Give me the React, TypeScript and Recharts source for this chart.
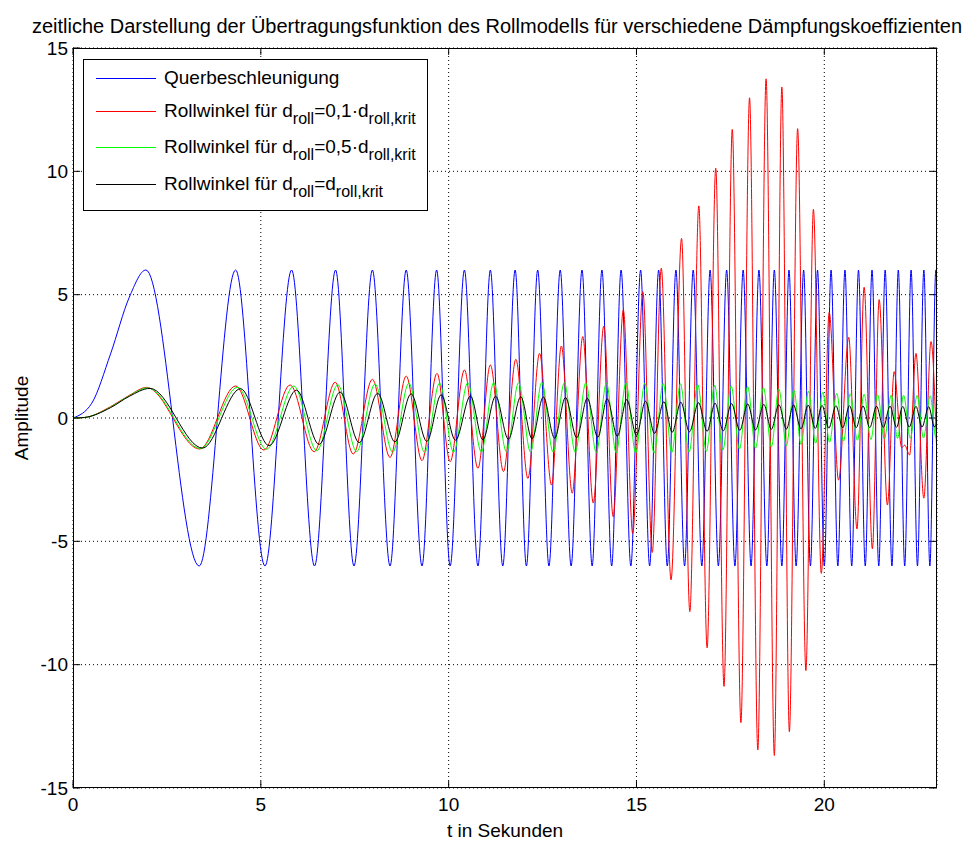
import React from "react"
import { LineChart, Line, XAxis, YAxis, CartesianGrid, ReferenceLine } from "recharts"

// extrema (t in s, amplitude)
const quer: number[][] = [
  [0, 0], [0.5, 0.6], [1.0, 2.6], [1.5, 4.9], [1.94, 6], [3.36, -6], [4.33, 6], [5.11, -6], [5.82, 6], [6.43, -6],
  [6.99, 6], [7.48, -6], [7.97, 6], [8.44, -6], [8.87, 6], [9.29, -6], [9.68, 6], [10.04, -6], [10.42, 6],
  [10.78, -6], [11.11, 6], [11.44, -6], [11.77, 6], [12.07, -6], [12.37, 6], [12.67, -6], [12.97, 6],
  [13.26, -6], [13.55, 6], [13.82, -6], [14.08, 6], [14.34, -6], [14.59, 6], [14.85, -6], [15.11, 6],
  [15.35, -6], [15.59, 6], [15.82, -6], [16.05, 6], [16.28, -6], [16.51, 6], [16.74, -6], [16.96, 6],
  [17.18, -6], [17.4, 6], [17.62, -6], [17.84, 6], [18.05, -6], [18.26, 6], [18.47, -6], [18.67, 6],
  [18.87, -6], [19.06, 6], [19.25, -6], [19.45, 6], [19.63, -6], [19.82, 6], [20.0, -6], [20.18, 6],
  [20.36, -6], [20.55, 6], [20.73, -6], [20.91, 6], [21.09, -6], [21.27, 6], [21.45, -6], [21.62, 6],
  [21.8, -6], [21.97, 6], [22.14, -6], [22.31, 6], [22.48, -6], [22.65, 6], [22.81, -6], [22.97, 6], [23, 5.9],
]

const roll01: number[][] = [
  [0, 0], [0.3, 0.02], [1.0, 0.46], [1.5, 0.92], [1.96, 1.24], [3.37, -1.26], [4.33, 1.3], [5.08, -1.3],
  [5.78, 1.34], [6.42, -1.37], [6.98, 1.45], [7.46, -1.46], [7.97, 1.57], [8.44, -1.6], [8.87, 1.7],
  [9.29, -1.73], [9.69, 1.81], [10.04, -1.77], [10.42, 1.95], [10.78, -2.04], [11.11, 2.15], [11.46, -2.17],
  [11.79, 2.38], [12.11, -2.45], [12.42, 2.62], [12.74, -2.72], [13.0, 2.92], [13.29, -3.05], [13.57, 3.3],
  [13.85, -3.45], [14.13, 3.73], [14.38, -4.0], [14.65, 4.38], [14.9, -4.68], [15.17, 5.12], [15.42, -5.45],
  [15.66, 6.07], [15.92, -6.56], [16.2, 7.28], [16.42, -7.85], [16.66, 8.6], [16.88, -9.32], [17.11, 10.13],
  [17.33, -10.88], [17.55, 11.7], [17.78, -12.35], [18.01, 12.98], [18.23, -13.46], [18.45, 13.75],
  [18.67, -13.68], [18.87, 13.42], [19.07, -12.72], [19.29, 11.73], [19.51, -10.24], [19.71, 8.46],
  [19.92, -6.3], [20.13, 4.28], [20.38, -2.52], [20.65, 3.27], [20.87, -4.5], [21.06, 5.3], [21.28, -5.3],
  [21.46, 4.8], [21.68, -3.53], [21.86, 1.88], [22.06, -1.2], [22.14, -1.1], [22.27, -1.5], [22.44, 2.62],
  [22.65, -3.25], [22.84, 3.1], [23, -1.7],
]

const roll05: number[][] = [
  [0, 0], [0.3, 0.02], [1.0, 0.44], [1.5, 0.9], [1.99, 1.22], [3.39, -1.24], [4.38, 1.25], [5.15, -1.27],
  [5.88, 1.3], [6.49, -1.33], [7.05, 1.35], [7.55, -1.36], [8.04, 1.38], [8.51, -1.39], [8.94, 1.41],
  [9.36, -1.4], [9.76, 1.42], [10.13, -1.39], [10.51, 1.43], [10.87, -1.38], [11.2, 1.43], [11.54, -1.38],
  [11.86, 1.43], [12.18, -1.38], [12.48, 1.44], [12.78, -1.38], [13.08, 1.43], [13.37, -1.39], [13.65, 1.42],
  [13.93, -1.4], [14.2, 1.42], [14.46, -1.41], [14.72, 1.42], [14.98, -1.42], [15.22, 1.41], [15.47, -1.42],
  [15.71, 1.4], [15.94, -1.4], [16.17, 1.39], [16.4, -1.38], [16.63, 1.36], [16.86, -1.35], [17.08, 1.33],
  [17.3, -1.3], [17.52, 1.3], [17.74, -1.26], [17.96, 1.27], [18.17, -1.22], [18.38, 1.23], [18.59, -1.17],
  [18.79, 1.18], [18.99, -1.12], [19.19, 1.13], [19.38, -1.07], [19.58, 1.08], [19.77, -1.02], [19.96, 1.04],
  [20.14, -0.98], [20.33, 1.0], [20.51, -0.94], [20.69, 0.98], [20.88, -0.9], [21.06, 0.96], [21.24, -0.87],
  [21.42, 0.94], [21.6, -0.85], [21.78, 0.93], [21.95, -0.83], [22.11, 0.92], [22.29, -0.82], [22.47, 0.91],
  [22.64, -0.81], [22.82, 0.9], [22.97, -0.8], [23, -0.75],
]

const rollKrit: number[][] = [
  [0, 0], [0.3, 0.02], [1.0, 0.42], [1.5, 0.88], [2.05, 1.2], [3.45, -1.22], [4.46, 1.19], [5.22, -1.12],
  [5.95, 1.13], [6.55, -1.07], [7.11, 1.05], [7.62, -1.0], [8.11, 1.0], [8.57, -0.97], [9.0, 0.98],
  [9.42, -0.95], [9.8, 0.94], [10.18, -0.9], [10.58, 0.89], [10.91, -0.88], [11.25, 0.88], [11.59, -0.86],
  [11.92, 0.86], [12.22, -0.84], [12.52, 0.85], [12.82, -0.82], [13.11, 0.83], [13.41, -0.8], [13.69, 0.8],
  [13.97, -0.78], [14.22, 0.78], [14.49, -0.74], [14.74, 0.75], [15.0, -0.7], [15.24, 0.68], [15.48, -0.62],
  [15.73, 0.66], [15.95, -0.58], [16.18, 0.64], [16.41, -0.56], [16.65, 0.62], [16.88, -0.54], [17.09, 0.6],
  [17.31, -0.52], [17.53, 0.58], [17.75, -0.5], [17.96, 0.57], [18.17, -0.48], [18.39, 0.55], [18.59, -0.46],
  [18.79, 0.54], [18.99, -0.45], [19.18, 0.53], [19.38, -0.44], [19.57, 0.52], [19.76, -0.42], [19.94, 0.51],
  [20.12, -0.41], [20.31, 0.5], [20.49, -0.4], [20.67, 0.5], [20.85, -0.39], [21.03, 0.49], [21.21, -0.39],
  [21.39, 0.48], [21.57, -0.38], [21.75, 0.48], [21.92, -0.38], [22.09, 0.47], [22.26, -0.37], [22.44, 0.47],
  [22.6, -0.37], [22.78, 0.46], [22.93, -0.36], [23, -0.2],
]

const xTicks = [0, 5, 10, 15, 20]
const yTicks = [-15, -10, -5, 0, 5, 10, 15]

const FONT = "'Liberation Sans', Arial, Helvetica, sans-serif"

const toPts = (arr: number[][]) => arr.map(([t, v]) => ({ t, v }))

function Sub({ children }: { children: React.ReactNode }) {
  return <span style={{ fontSize: 16, position: "relative", top: 7 }}>{children}</span>
}

const legendRows = [
  { color: "#0000ff", label: <>Querbeschleunigung</> },
  { color: "#ff0000", label: <>Rollwinkel für d<Sub>roll</Sub>=0,1·d<Sub>roll,krit</Sub></> },
  { color: "#00ff00", label: <>Rollwinkel für d<Sub>roll</Sub>=0,5·d<Sub>roll,krit</Sub></> },
  { color: "#000000", label: <>Rollwinkel für d<Sub>roll</Sub>=d<Sub>roll,krit</Sub></> },
]
const legendTops = [6, 39, 75, 112]

export default function App() {
  const tickStyle = { fontSize: 19, fill: "#000", fontFamily: FONT }
  return (
    <div style={{ position: "absolute", left: 0, top: 0, width: 968, height: 844, background: "#fff", fontFamily: FONT }}>
      <LineChart width={968} height={844} margin={{ top: 48, right: 31, bottom: 26, left: 13 }}>
        <CartesianGrid stroke="#000" strokeDasharray="1 3" />
        <XAxis
          type="number"
          dataKey="t"
          domain={[0, 23]}
          ticks={xTicks}
          allowDataOverflow
          axisLine={false}
          tickLine={false}
          tickSize={0}
          tickMargin={10}
          tick={tickStyle}
          height={30}
        />
        <YAxis
          type="number"
          domain={[-15, 15]}
          ticks={yTicks}
          allowDataOverflow
          axisLine={false}
          tickLine={false}
          tickSize={0}
          tickMargin={5}
          tick={tickStyle}
          width={60}
        />
        {xTicks.map((t) => (
          <ReferenceLine key={`xb${t}`} segment={[{ x: t, y: -15 }, { x: t, y: -14.72 }]} stroke="#000" />
        ))}
        {xTicks.map((t) => (
          <ReferenceLine key={`xt${t}`} segment={[{ x: t, y: 15 }, { x: t, y: 14.72 }]} stroke="#000" />
        ))}
        {yTicks.map((v) => (
          <ReferenceLine key={`yl${v}`} segment={[{ x: 0, y: v }, { x: 0.19, y: v }]} stroke="#000" />
        ))}
        {yTicks.map((v) => (
          <ReferenceLine key={`yr${v}`} segment={[{ x: 23, y: v }, { x: 22.81, y: v }]} stroke="#000" />
        ))}
        <Line data={toPts(quer)} dataKey="v" type="monotone" stroke="#0000ff" strokeWidth={1} dot={false} isAnimationActive={false} />
        <Line data={toPts(roll01)} dataKey="v" type="monotone" stroke="#ff0000" strokeWidth={1} dot={false} isAnimationActive={false} />
        <Line data={toPts(roll05)} dataKey="v" type="monotone" stroke="#00ff00" strokeWidth={1} dot={false} isAnimationActive={false} />
        <Line data={toPts(rollKrit)} dataKey="v" type="monotone" stroke="#000000" strokeWidth={1} dot={false} isAnimationActive={false} />
      </LineChart>

      {/* axes box */}
      <div style={{ position: "absolute", left: 73, top: 48, width: 864, height: 740, border: "1px solid #000", boxSizing: "border-box", pointerEvents: "none" }} />

      {/* title and axis labels */}
      <div style={{ position: "absolute", left: 497, top: 15, transform: "translateX(-50%)", whiteSpace: "nowrap", fontSize: 20 }}>
        zeitliche Darstellung der Übertragungsfunktion des Rollmodells für verschiedene Dämpfungskoeffizienten
      </div>
      <div style={{ position: "absolute", left: 505, top: 820, transform: "translateX(-50%)", whiteSpace: "nowrap", fontSize: 19 }}>
        t in Sekunden
      </div>
      <div style={{ position: "absolute", left: 22, top: 418, transform: "translate(-50%, -50%) rotate(-90deg)", whiteSpace: "nowrap", fontSize: 19 }}>
        Amplitude
      </div>

      {/* legend */}
      <div style={{ position: "absolute", left: 83, top: 59, width: 345, height: 152, border: "1px solid #000", boxSizing: "border-box", background: "#fff" }}>
        <svg width={80} height={150} style={{ position: "absolute", left: 0, top: 0 }}>
          {legendRows.map((r, i) => (
            <line key={i} x1={12} x2={72} y1={legendTops[i] + 12.5} y2={legendTops[i] + 12.5} stroke={r.color} strokeWidth={1} />
          ))}
        </svg>
        {legendRows.map((r, i) => (
          <div key={i} style={{ position: "absolute", left: 80, top: legendTops[i], lineHeight: "24px", whiteSpace: "nowrap", fontSize: 19 }}>
            {r.label}
          </div>
        ))}
      </div>
    </div>
  )
}
